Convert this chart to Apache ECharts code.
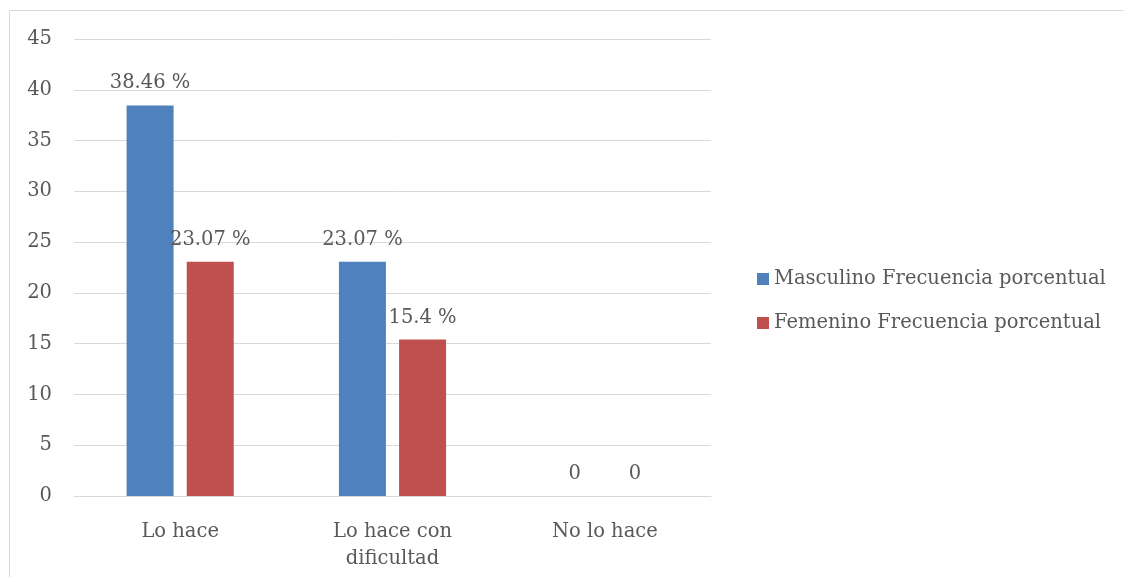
<!DOCTYPE html>
<html>
<head>
<meta charset="utf-8">
<script src="https://cdn.jsdelivr.net/npm/echarts@6/dist/echarts.min.js"></script>
<style>
  html, body { margin: 0; padding: 0; background: #fff; }
  #main { width: 1124px; height: 577px; }
</style>
</head>
<body>
<div id="main"></div>
<script>
// categorías y valores
var categorias = ['Lo hace', 'Lo hace con\ndificultad', 'No lo hace'];
var masculino = [38.46, 23.07, 0];
var femenino = [23.07, 15.4, 0];
var nombres = ['Masculino Frecuencia porcentual', 'Femenino Frecuencia porcentual'];

var fuente = 'DejaVu Serif';
var gris = '#595959';
var tam = 19.5;

var chart = echarts.init(document.getElementById('main'));

function etiqueta(p) {
  return p.value === 0 ? '0' : p.value + ' %';
}

var option = {
  animation: false,
  textStyle: { fontFamily: fuente },
  graphic: [{
    type: 'rect',
    shape: { x: 9.5, y: 10.5, width: 1300, height: 800 },
    style: { fill: 'none', stroke: '#D9D9D9', lineWidth: 1 },
    silent: true
  }],
  grid: { left: 74, right: 413, top: 39, bottom: 81 },
  legend: {
    orient: 'vertical',
    left: 752,
    top: 264,
    itemWidth: 12,
    itemHeight: 12,
    itemGap: 24,
    icon: 'rect',
    textStyle: { color: gris, fontSize: tam, fontFamily: fuente },
    data: nombres
  },
  xAxis: {
    type: 'category',
    data: categorias,
    axisLine: { lineStyle: { color: '#D9D9D9' } },
    axisTick: { show: false },
    axisLabel: { color: gris, fontSize: tam, fontFamily: fuente, margin: 22, lineHeight: 27, interval: 0 }
  },
  yAxis: {
    type: 'value',
    min: 0,
    max: 45,
    interval: 5,
    axisLine: { show: false },
    axisTick: { show: false },
    splitLine: { lineStyle: { color: '#D9D9D9' } },
    axisLabel: { color: gris, fontSize: tam, fontFamily: fuente, margin: 22 }
  },
  series: [
    {
      name: nombres[0],
      type: 'bar',
      data: masculino,
      barWidth: 47,
      barGap: '28%',
      itemStyle: { color: '#4F81BD' },
      label: { show: true, position: 'top', distance: 12, color: gris, fontSize: tam, fontFamily: fuente, formatter: etiqueta }
    },
    {
      name: nombres[1],
      type: 'bar',
      data: femenino,
      barWidth: 47,
      itemStyle: { color: '#C0504D' },
      label: { show: true, position: 'top', distance: 12, color: gris, fontSize: tam, fontFamily: fuente, formatter: etiqueta }
    }
  ]
};

chart.setOption(option);
</script>
</body>
</html>
